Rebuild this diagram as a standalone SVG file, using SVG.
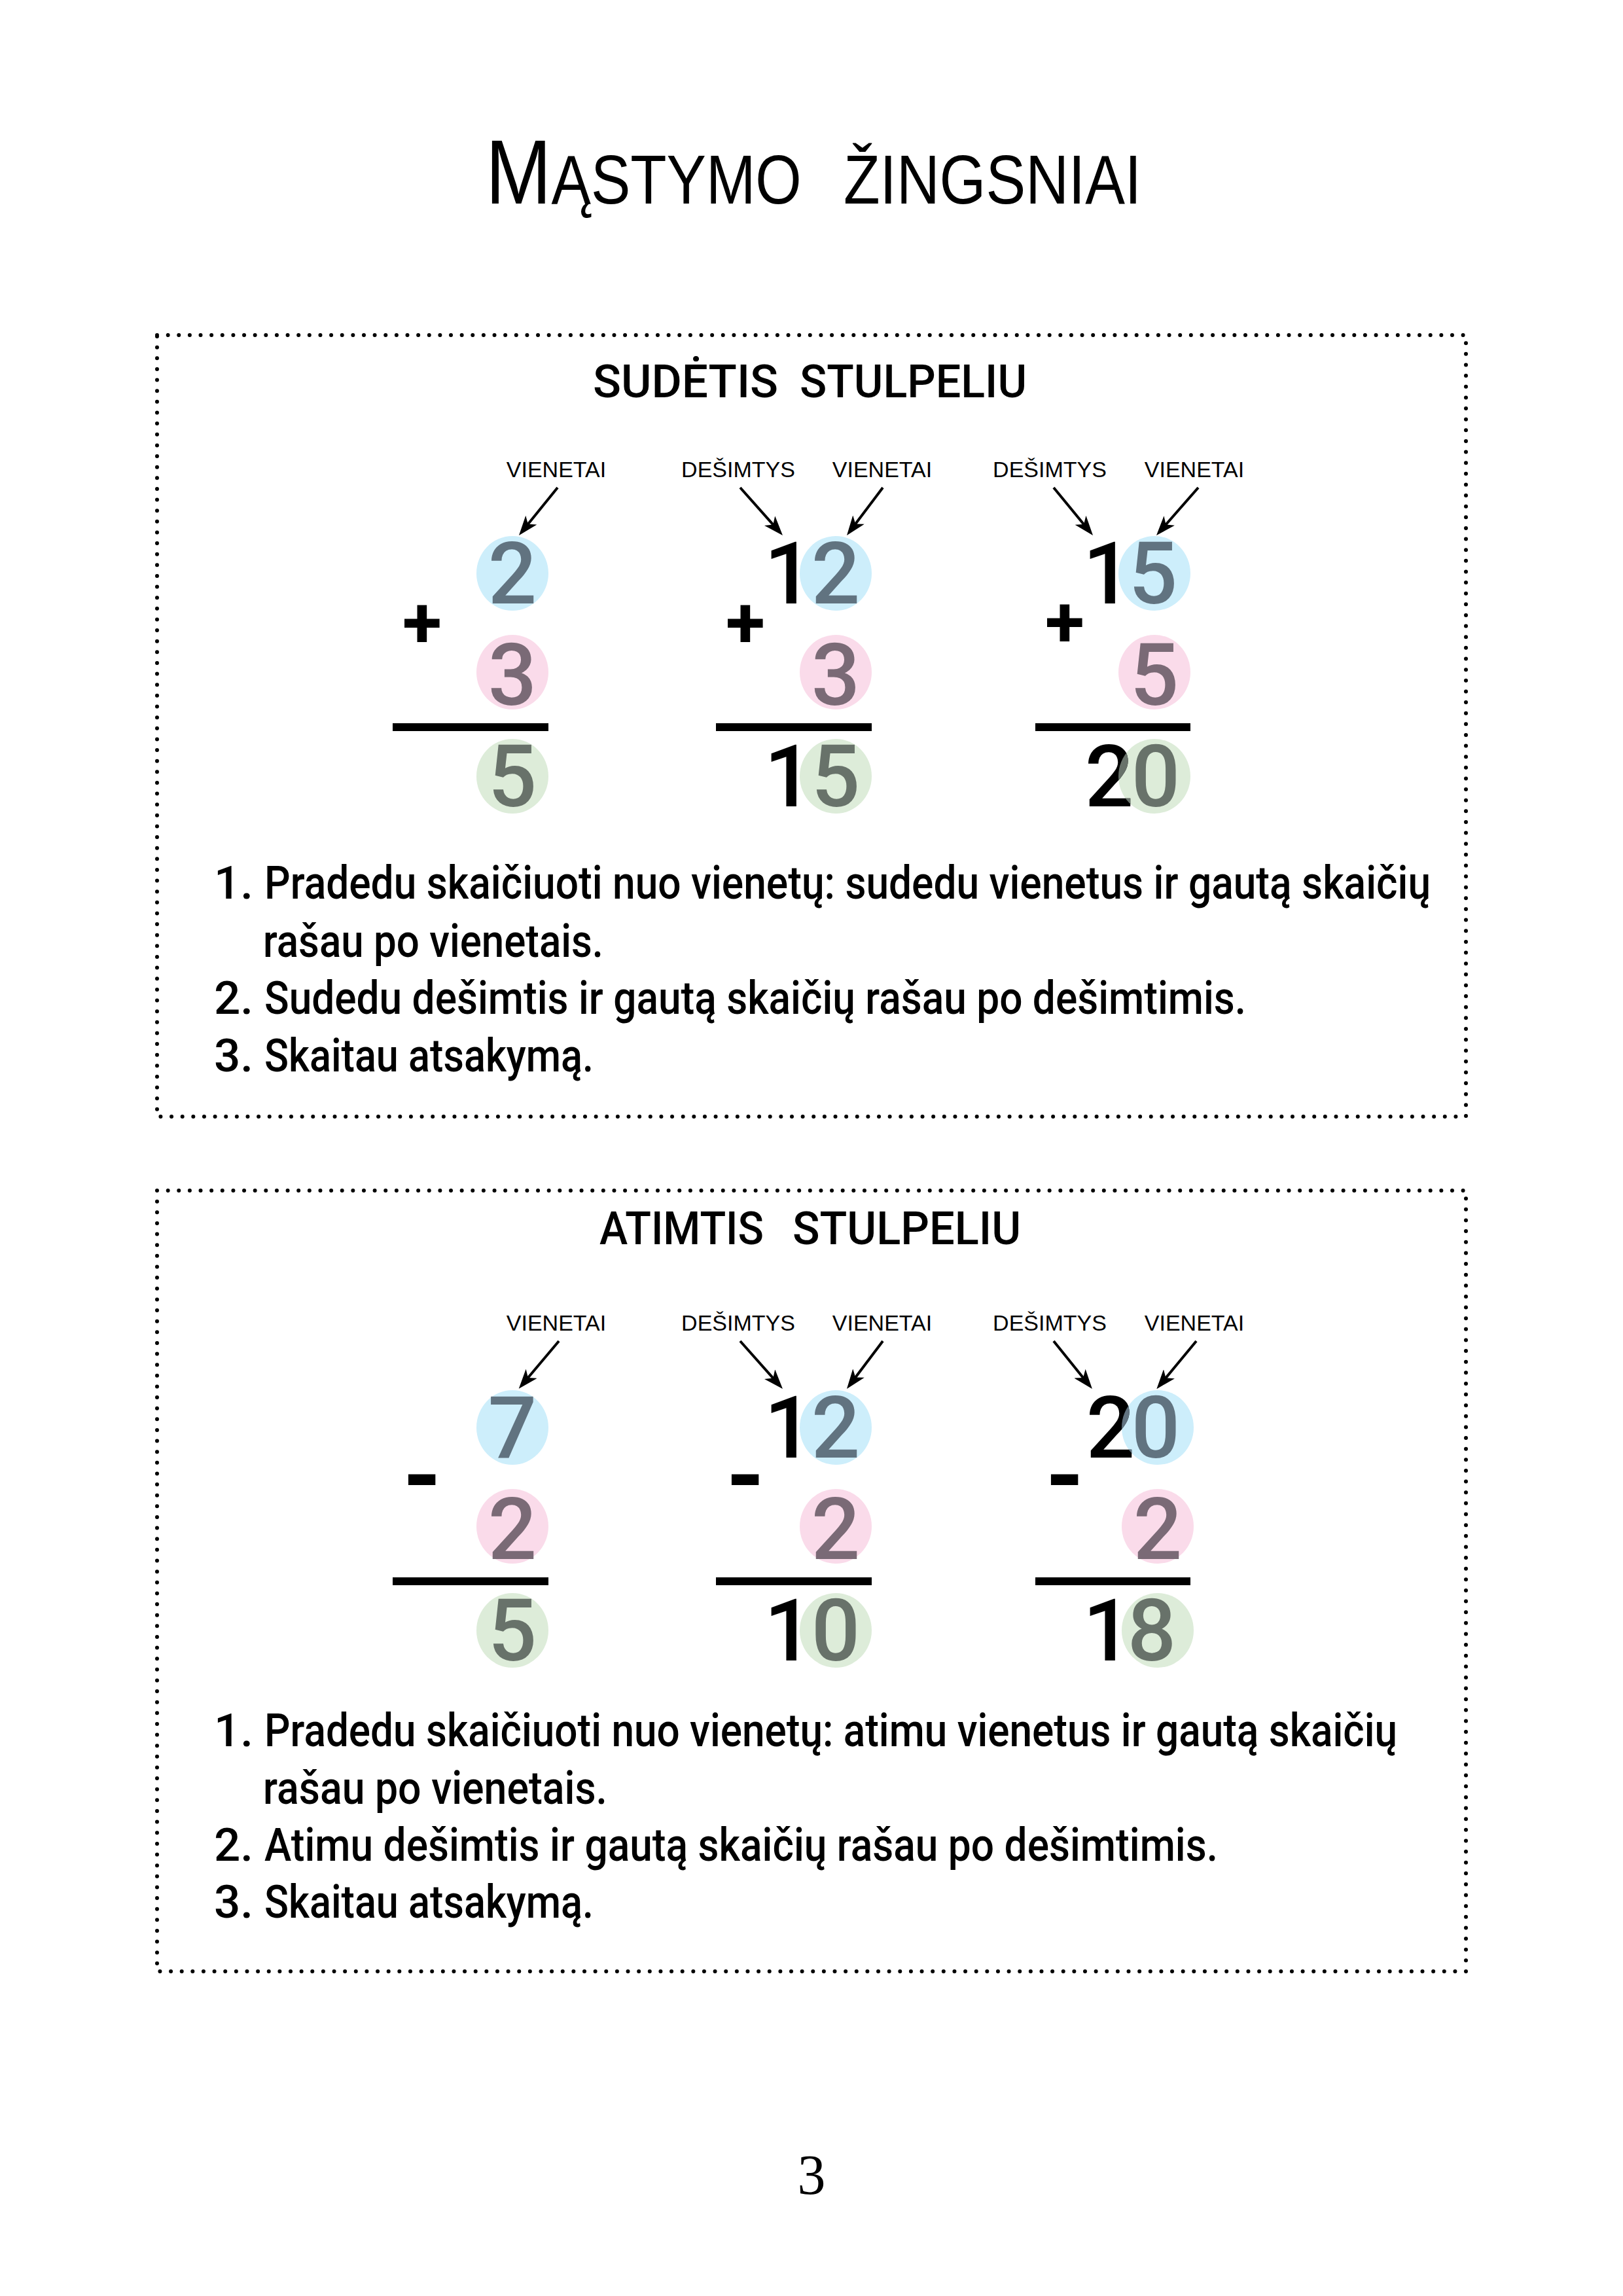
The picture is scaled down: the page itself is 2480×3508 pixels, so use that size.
<svg xmlns="http://www.w3.org/2000/svg" width="2480" height="3508" viewBox="0 0 2480 3508">
<style>
.bg{fill:#fff}
.ttl{font-family:"Liberation Sans",Arial,sans-serif;fill:#000}
.sect{font-family:Roboto,"Liberation Sans",sans-serif;font-weight:500;font-size:70px;fill:#000}
.lbl{font-family:"Liberation Sans",Arial,sans-serif;font-size:34px;fill:#000;text-anchor:middle}
.dig{font-family:Roboto,"Liberation Sans",sans-serif;font-weight:500;font-size:131px;text-anchor:middle;fill:#000}
.op{font-family:Roboto,"Liberation Sans",sans-serif;font-weight:bold;text-anchor:middle;fill:#000}
.body{font-family:Roboto,"Liberation Sans",sans-serif;font-weight:500;font-size:71px;fill:#000}
.dots{fill:none;stroke:#000;stroke-width:6;stroke-linecap:round;stroke-dasharray:0 16.63}
.arr{stroke:#000;stroke-width:4;fill:none;marker-end:url(#ah)}
.cb{fill:#cdeefb}.cp{fill:#fadbea}.cg{fill:#ddecd9}
.db{fill:#617380}.dp{fill:#7a6a76}.dg{fill:#68726a}
.pg{font-family:"Liberation Serif","Times New Roman",serif;font-size:86px;text-anchor:middle;fill:#000}
</style>
<defs>
<marker id="ah" markerUnits="userSpaceOnUse" markerWidth="30" markerHeight="22" viewBox="0 0 30 22" refX="15" refY="11" orient="auto">
<path d="M0,0 L30,11 L0,22 L8,11 Z" fill="#000"/>
</marker>
<clipPath id="clipA"><ellipse cx="1764" cy="1186" rx="55" ry="57"/></clipPath>
<clipPath id="clipB"><ellipse cx="1769" cy="2181" rx="55" ry="57"/></clipPath>
</defs>
<rect class="bg" x="0" y="0" width="2480" height="3508"/>

<g id="title">
<text class="ttl" transform="translate(742,311) scale(0.862,1)" x="0" y="0"><tspan font-size="140">M</tspan><tspan font-size="105">ĄSTYMO</tspan></text>
<text class="ttl" transform="translate(1289,311) scale(0.867,1)" x="0" y="0" font-size="105">ŽINGSNIAI</text>
</g>

<!-- SECTION 1 -->
<g id="box1">
<rect class="dots" x="240" y="512" width="2000" height="1194"/>
</g>
<g id="title1">
<text class="sect"><tspan x="906" y="607" textLength="283" lengthAdjust="spacingAndGlyphs">SUDĖTIS</tspan> <tspan x="1222" y="607" textLength="347" lengthAdjust="spacingAndGlyphs">STULPELIU</tspan></text>
</g>
<g id="labels1">
<text class="lbl" x="850" y="729">VIENETAI</text>
<text class="lbl" x="1128" y="729">DEŠIMTYS</text>
<text class="lbl" x="1348" y="729">VIENETAI</text>
<text class="lbl" x="1604" y="729">DEŠIMTYS</text>
<text class="lbl" x="1825" y="729">VIENETAI</text>
</g>
<g id="sum1">
<ellipse class="cb" cx="783" cy="876" rx="55" ry="57"/>
<ellipse class="cp" cx="783" cy="1027" rx="55" ry="57"/>
<ellipse class="cg" cx="783" cy="1186" rx="55" ry="57"/>
<text class="dig db" x="783" y="922">2</text>
<text class="dig dp" x="783" y="1077">3</text>
<text class="dig dg" x="783" y="1232">5</text>
<text class="op" x="645" y="989" font-size="110">+</text>
<rect x="600" y="1105" width="238" height="12" fill="#000"/>
</g>
<g id="sum2">
<ellipse class="cb" cx="1277" cy="876" rx="55" ry="57"/>
<ellipse class="cp" cx="1277" cy="1027" rx="55" ry="57"/>
<ellipse class="cg" cx="1277" cy="1186" rx="55" ry="57"/>
<text class="dig" x="1205" y="922">1</text>
<text class="dig db" x="1277" y="922">2</text>
<text class="dig dp" x="1277" y="1077">3</text>
<text class="dig" x="1205" y="1232">1</text>
<text class="dig dg" x="1277" y="1232">5</text>
<text class="op" x="1139" y="989" font-size="110">+</text>
<rect x="1094" y="1105" width="238" height="12" fill="#000"/>
</g>
<g id="sum3">
<ellipse class="cb" cx="1764" cy="876" rx="55" ry="57"/>
<ellipse class="cp" cx="1764" cy="1027" rx="55" ry="57"/>
<ellipse class="cg" cx="1764" cy="1186" rx="55" ry="57"/>
<text class="dig" x="1692" y="922">1</text>
<text class="dig db" x="1762" y="922">5</text>
<text class="dig dp" x="1764" y="1077">5</text>
<text class="dig" x="1695" y="1232">2</text>
<text class="dig dg" x="1695" y="1232" clip-path="url(#clipA)">2</text>
<text class="dig dg" x="1766" y="1232">0</text>
<text class="op" x="1627" y="988" font-size="110">+</text>
<rect x="1582" y="1105" width="237" height="12" fill="#000"/>
</g>
<g id="steps1">
<text class="body" x="327" y="1373">1.</text>
<text class="body" x="404" y="1373" textLength="1782" lengthAdjust="spacingAndGlyphs">Pradedu skaičiuoti nuo vienetų: sudedu vienetus ir gautą skaičių</text>
<text class="body" x="402" y="1462" textLength="520" lengthAdjust="spacingAndGlyphs">rašau po vienetais.</text>
<text class="body" x="327" y="1549">2.</text>
<text class="body" x="404" y="1549" textLength="1500" lengthAdjust="spacingAndGlyphs">Sudedu dešimtis ir gautą skaičių rašau po dešimtimis.</text>
<text class="body" x="327" y="1637">3.</text>
<text class="body" x="404" y="1637" textLength="503" lengthAdjust="spacingAndGlyphs">Skaitau atsakymą.</text>
</g>

<!-- SECTION 2 -->
<g id="box2">
<rect class="dots" x="240" y="1819" width="2000" height="1193"/>
</g>
<g id="title2">
<text class="sect"><tspan x="916" y="1901" textLength="251" lengthAdjust="spacingAndGlyphs">ATIMTIS</tspan> <tspan x="1211" y="1901" textLength="349" lengthAdjust="spacingAndGlyphs">STULPELIU</tspan></text>
</g>
<g id="labels2">
<text class="lbl" x="850" y="2033">VIENETAI</text>
<text class="lbl" x="1128" y="2033">DEŠIMTYS</text>
<text class="lbl" x="1348" y="2033">VIENETAI</text>
<text class="lbl" x="1604" y="2033">DEŠIMTYS</text>
<text class="lbl" x="1825" y="2033">VIENETAI</text>
</g>
<g id="sub1">
<ellipse class="cb" cx="783" cy="2181" rx="55" ry="57"/>
<ellipse class="cp" cx="783" cy="2332" rx="55" ry="57"/>
<ellipse class="cg" cx="783" cy="2491" rx="55" ry="57"/>
<text class="dig db" x="783" y="2227">7</text>
<text class="dig dp" x="783" y="2382">2</text>
<text class="dig dg" x="783" y="2537">5</text>
<text class="op" x="645" y="2307" font-size="150">-</text>
<rect x="600" y="2410" width="238" height="12" fill="#000"/>
</g>
<g id="sub2">
<ellipse class="cb" cx="1277" cy="2181" rx="55" ry="57"/>
<ellipse class="cp" cx="1277" cy="2332" rx="55" ry="57"/>
<ellipse class="cg" cx="1277" cy="2491" rx="55" ry="57"/>
<text class="dig" x="1205" y="2227">1</text>
<text class="dig db" x="1277" y="2227">2</text>
<text class="dig dp" x="1277" y="2382">2</text>
<text class="dig" x="1205" y="2537">1</text>
<text class="dig dg" x="1277" y="2537">0</text>
<text class="op" x="1139" y="2307" font-size="150">-</text>
<rect x="1094" y="2410" width="238" height="12" fill="#000"/>
</g>
<g id="sub3">
<ellipse class="cb" cx="1769" cy="2181" rx="55" ry="57"/>
<ellipse class="cp" cx="1769" cy="2332" rx="55" ry="57"/>
<ellipse class="cg" cx="1769" cy="2491" rx="55" ry="57"/>
<text class="dig" x="1697" y="2227">2</text>
<text class="dig db" x="1697" y="2227" clip-path="url(#clipB)">2</text>
<text class="dig db" x="1766" y="2227">0</text>
<text class="dig dp" x="1769" y="2382">2</text>
<text class="dig" x="1692" y="2537">1</text>
<text class="dig dg" x="1760" y="2537">8</text>
<text class="op" x="1627" y="2307" font-size="150">-</text>
<rect x="1582" y="2410" width="237" height="12" fill="#000"/>
</g>
<g id="steps2">
<text class="body" x="327" y="2668">1.</text>
<text class="body" x="404" y="2668" textLength="1731" lengthAdjust="spacingAndGlyphs">Pradedu skaičiuoti nuo vienetų: atimu vienetus ir gautą skaičių</text>
<text class="body" x="402" y="2756" textLength="526" lengthAdjust="spacingAndGlyphs">rašau po vienetais.</text>
<text class="body" x="327" y="2843">2.</text>
<text class="body" x="404" y="2843" textLength="1457" lengthAdjust="spacingAndGlyphs">Atimu dešimtis ir gautą skaičių rašau po dešimtimis.</text>
<text class="body" x="327" y="2930">3.</text>
<text class="body" x="404" y="2930" textLength="503" lengthAdjust="spacingAndGlyphs">Skaitau atsakymą.</text>
</g>

<g id="connectors">
<line class="arr" x1="852" y1="745" x2="802.4" y2="806.3"/>
<line class="arr" x1="1131" y1="745" x2="1186" y2="806.8"/>
<line class="arr" x1="1349" y1="745" x2="1303" y2="806"/>
<line class="arr" x1="1610" y1="745" x2="1660.5" y2="806.4"/>
<line class="arr" x1="1831" y1="745" x2="1776.9" y2="806.7"/>
<line class="arr" x1="854" y1="2049" x2="802.4" y2="2110.3"/>
<line class="arr" x1="1131" y1="2049" x2="1186" y2="2110.8"/>
<line class="arr" x1="1349" y1="2049" x2="1303" y2="2110"/>
<line class="arr" x1="1610" y1="2049" x2="1659.5" y2="2110.4"/>
<line class="arr" x1="1828" y1="2049" x2="1776.9" y2="2110.7"/>
</g>

<g id="page">
<text class="pg" x="1240" y="3352">3</text>
</g>
</svg>
